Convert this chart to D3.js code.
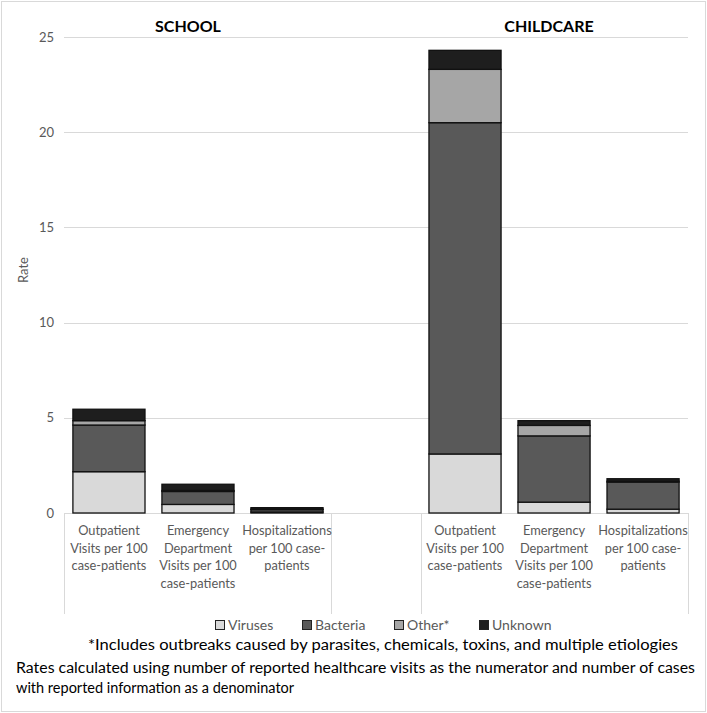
<!DOCTYPE html>
<html><head><meta charset="utf-8">
<script src="https://cdn.jsdelivr.net/npm/d3@7"></script>
<style>
html,body{margin:0;padding:0;background:#fff;}
svg{display:block;font-family:Lato,"Open Sans",sans-serif;}
</style></head>
<body>
<svg id="chart" width="707" height="713"></svg>
<script>
// ---- data ----
const groups = ["SCHOOL", "CHILDCARE"];
const slots = ["S-OP", "S-ED", "S-HOSP", "gap", "C-OP", "C-ED", "C-HOSP"];
const barSlots = ["S-OP", "S-ED", "S-HOSP", "C-OP", "C-ED", "C-HOSP"];
const categoryLines = [
  ["Outpatient", "Visits per 100", "case-patients"],
  ["Emergency", "Department", "Visits per 100", "case-patients"],
  ["Hospitalizations", "per 100 case-", "patients"]
];
const seriesNames = ["Viruses", "Bacteria", "Other*", "Unknown"];
const viruses  = [2.17, 0.45, 0.05, 3.10, 0.57, 0.20];
const bacteria = [2.45, 0.68, 0.13, 17.40, 3.48, 1.42];
const other    = [0.23, 0.05, 0.02, 2.80, 0.55, 0.05];
const unknown  = [0.60, 0.33, 0.08, 1.00, 0.25, 0.13];
const yTicks = [0, 5, 10, 15, 20, 25];
const footnotes = [
  "*Includes outbreaks caused by parasites, chemicals, toxins, and multiple etiologies",
  "Rates calculated using number of reported healthcare visits as the numerator and number of cases",
  "with reported information as a denominator"
];

// ---- chart ----
const colors = ["#d9d9d9", "#595959", "#a6a6a6", "#1e1e1e"];
const svg = d3.select("#chart");
const W = 707, H = 713;
svg.append("rect").attr("x", 1.5).attr("y", 1.5).attr("width", W - 3).attr("height", H - 3)
  .attr("fill", "#fff").attr("stroke", "#d9d9d9").attr("stroke-width", 1);

const x = d3.scaleBand().domain(slots).range([64, 688]).paddingInner(0.19).paddingOuter(0.1);
const y = d3.scaleLinear().domain([0, 25]).range([513, 37]);

// gridlines
svg.append("g").selectAll("line").data(yTicks).join("line")
  .attr("x1", 64).attr("x2", 688)
  .attr("y1", d => Math.round(y(d)) + 0.5).attr("y2", d => Math.round(y(d)) + 0.5)
  .attr("stroke", "#d9d9d9").attr("stroke-width", 1);

// y axis labels
const yAxis = d3.axisLeft(y).tickValues(yTicks).tickSize(0).tickPadding(0);
const ga = svg.append("g").attr("transform", "translate(54,0)").call(yAxis);
ga.select(".domain").remove();
ga.selectAll("text").attr("fill", "#595959").attr("font-size", 13).attr("font-family", "Lato, sans-serif");

svg.append("text").attr("transform", "translate(28,270) rotate(-90)")
  .attr("text-anchor", "middle").attr("fill", "#595959").attr("font-size", 13).text("Rate");

// stacked bars
const rows = barSlots.map((s, i) => ({slot: s, Viruses: viruses[i], Bacteria: bacteria[i], "Other*": other[i], Unknown: unknown[i]}));
const stack = d3.stack().keys(seriesNames)(rows);
svg.append("g").selectAll("g").data(stack).join("g")
  .attr("fill", (d, i) => colors[i])
  .selectAll("rect").data(d => d).join("rect")
  .attr("x", d => x(d.data.slot))
  .attr("width", x.bandwidth())
  .attr("y", d => y(d[1]))
  .attr("height", d => y(d[0]) - y(d[1]))
  .attr("stroke", "#111").attr("stroke-width", 1.3);

// category axis box
const sepX = [64, x("S-HOSP") + x.bandwidth() + (x.step() - x.bandwidth()) / 2, x("gap") + x.bandwidth() + (x.step() - x.bandwidth()) / 2, 688];
svg.append("g").selectAll("line").data(sepX).join("line")
  .attr("x1", d => Math.round(d) + 0.5).attr("x2", d => Math.round(d) + 0.5)
  .attr("y1", 513).attr("y2", 614)
  .attr("stroke", "#d9d9d9").attr("stroke-width", 1);

const labelG = svg.append("g").attr("fill", "#595959").attr("font-size", 12.8).attr("text-anchor", "middle");
barSlots.forEach((s, i) => {
  const lines = categoryLines[i % 3];
  const t = labelG.append("text").attr("x", x(s) + x.bandwidth() / 2);
  lines.forEach((ln, j) => {
    t.append("tspan").attr("x", x(s) + x.bandwidth() / 2).attr("y", 535 + j * 17.5).text(ln);
  });
});

// group titles
const titleX = [188, 549];
groups.forEach((g, i) => {
  svg.append("text").attr("x", titleX[i]).attr("y", 32).attr("text-anchor", "middle")
    .attr("font-weight", "bold").attr("font-size", 16).attr("fill", "#000").text(g);
});

// legend
const legX = [215, 302, 394, 479];
const lg = svg.append("g");
seriesNames.forEach((n, i) => {
  lg.append("rect").attr("x", legX[i] + 0.5).attr("y", 620.5).attr("width", 9).attr("height", 9)
    .attr("fill", colors[i]).attr("stroke", "#222").attr("stroke-width", 1);
  lg.append("text").attr("x", legX[i] + 13).attr("y", 630).attr("fill", "#595959")
    .attr("font-size", 14).text(n);
});

// footnotes
svg.append("text").attr("x", 88).attr("y", 650).attr("font-size", 14.5).attr("fill", "#000")
  .attr("textLength", 590).attr("lengthAdjust", "spacingAndGlyphs").text(footnotes[0]);
svg.append("text").attr("x", 16).attr("y", 673).attr("font-size", 14.5).attr("fill", "#000")
  .attr("textLength", 679).attr("lengthAdjust", "spacingAndGlyphs").text(footnotes[1]);
svg.append("text").attr("x", 16).attr("y", 693).attr("font-size", 14.5).attr("fill", "#000").text(footnotes[2]);
</script>
</body></html>
